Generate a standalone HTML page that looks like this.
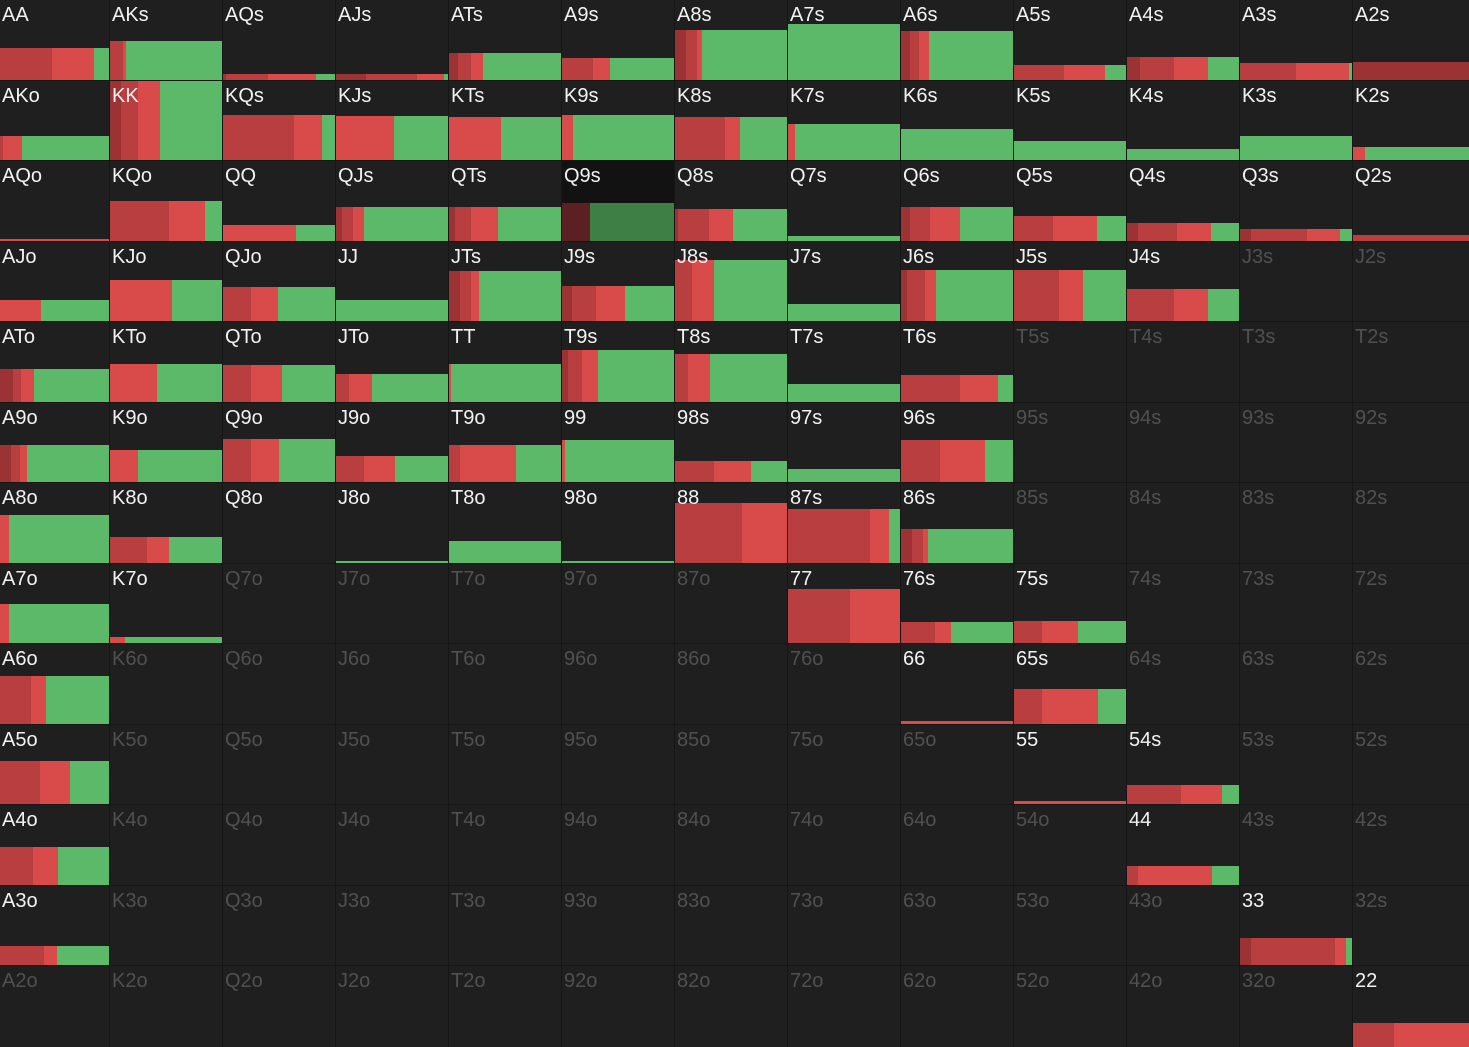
<!DOCTYPE html>
<html><head><meta charset="utf-8">
<style>
html,body{margin:0;padding:0;background:#161616;}
#grid{position:relative;width:1469px;height:1047px;background:#161616;overflow:hidden;font-family:"Liberation Sans",sans-serif;}
.cell{position:absolute;background:#1f1f1f;overflow:hidden;}
.cell.hl{background:#121212;}
.lbl{position:absolute;left:2px;top:3px;font-size:20px;color:#f2f2f2;z-index:2;line-height:24px;}
.cell.off .lbl{color:#505050;}
.bar{position:absolute;left:0;right:0;bottom:0;display:flex;}
.bar div{height:100%;}
</style></head>
<body>
<div id="grid"></div>
<script>
const ranks = ["A","K","Q","J","T","9","8","7","6","5","4","3","2"];
// hand -> [height fraction, darkest red, dark red, red, green]
const handNames = ["AA","AKs","AQs","AJs","ATs","A9s","A8s","A7s","A6s","A5s","A4s","A3s","A2s",
"AKo","KK","KQs","KJs","KTs","K9s","K8s","K7s","K6s","K5s","K4s","K3s","K2s",
"AQo","KQo","QQ","QJs","QTs","Q9s","Q8s","Q7s","Q6s","Q5s","Q4s","Q3s","Q2s",
"AJo","KJo","QJo","JJ","JTs","J9s","J8s","J7s","J6s","J5s","J4s",
"ATo","KTo","QTo","JTo","TT","T9s","T8s","T7s","T6s",
"A9o","K9o","Q9o","J9o","T9o","99","98s","97s","96s",
"A8o","K8o","Q8o","J8o","T8o","98o","88","87s","86s",
"A7o","K7o","77","76s","75s",
"A6o","66","65s",
"A5o","55","54s",
"A4o","44",
"A3o","33",
"22"];
const heights = [.40,.49,.07,.08,.34,.28,.63,.70,.61,.19,.29,.21,.22,
.31,1.0,.57,.56,.54,.57,.55,.45,.39,.24,.14,.30,.16,
.03,.50,.20,.43,.42,.48,.40,.06,.43,.31,.22,.15,.07,
.26,.52,.43,.26,.63,.44,.77,.22,.64,.64,.40,
.41,.48,.46,.35,.48,.65,.60,.23,.34,
.47,.41,.54,.33,.47,.53,.27,.16,.53,
.60,.32,0,.03,.27,.03,.75,.67,.42,
.49,.08,.69,.27,.28,
.60,.04,.44,
.55,.04,.24,
.47,.24,
.24,.34,
.30];
const darkest = [0,0,.03,.27,.08,0,.10,0,.08,0,.12,0,1,
0,.10,0,0,0,0,0,0,0,0,0,0,0,
0,0,0,.05,.05,.25,.03,0,.08,0,.10,.10,0,
0,0,0,0,.10,.09,0,0,.05,0,0,
.12,0,0,0,0,.05,0,0,0,
.10,0,0,0,0,0,0,0,0,
0,0,0,0,0,0,0,0,.10,
0,0,0,0,0,
0,0,0,
0,0,0,
0,0,
0,.10,
0];
const darkRed = [.48,.12,.37,.45,.12,.28,.10,0,.08,.45,.30,.50,0,
.03,.15,.63,0,0,0,.45,0,0,0,0,0,0,
0,.53,0,.10,.15,0,.27,0,.18,.35,.35,.50,1,
0,0,.25,0,.10,.21,.15,0,.16,.40,.42,
.07,0,.25,.12,0,.13,.12,0,.53,
.08,0,.25,.25,.10,0,.35,0,.35,
0,.33,0,0,0,0,.60,.73,.10,
0,0,.55,.30,.25,
.28,0,.25,
.37,0,.48,
.30,.10,
.40,.75,
.35];
const red = [.38,.02,.43,.24,.10,.15,.04,0,.09,.36,.30,.47,0,
.17,.20,.25,.52,.46,.10,.13,.06,0,0,0,0,.10,
1,.32,.65,.10,.24,0,.22,0,.27,.39,.30,.29,0,
.38,.55,.24,0,.07,.26,.20,0,.10,.22,.30,
.12,.42,.28,.20,.02,.14,.19,0,.34,
.07,.25,.25,.28,.50,.03,.33,0,.40,
.08,.20,0,0,0,0,.40,.17,.04,
.08,.13,.45,.15,.32,
.14,1,.50,
.27,1,.37,
.23,.66,
.12,.10,
.65];
const green = [.14,.86,.17,.04,.70,.57,.76,1,.75,.19,.28,.03,0,
.80,.55,.12,.48,.54,.90,.42,.94,1,1,1,1,.90,
0,.15,.35,.75,.56,.75,.48,1,.47,.26,.25,.11,0,
.62,.45,.51,1,.73,.44,.65,1,.69,.38,.28,
.69,.58,.47,.68,.98,.68,.69,1,.13,
.75,.75,.50,.47,.40,.97,.32,1,.25,
.92,.47,0,1,1,1,0,.10,.76,
.92,.87,0,.55,.43,
.58,0,.25,
.36,0,.15,
.47,.24,
.48,.05,
0];
const colsN = ["#9b3334","#b83e3f","#d94a4a","#5cb96a"];
const colsH = ["#5c2022","#6e2628","#822d2e","#3d7f45"];
const highlighted = "Q9s";

function colX(i){ return i===0 ? 0 : 110 + (i-1)*113; }
function colW(i){ return i===0 ? 109 : (i===12 ? 1469-colX(12) : 112); }
function rowY(i){ return Math.round(i*1047/13); }
function rowH(i){ return rowY(i+1)-rowY(i)-1; }
function handAt(r,c){
  if(r===c) return ranks[r]+ranks[c];
  if(c>r) return ranks[r]+ranks[c]+"s";
  return ranks[c]+ranks[r]+"o";
}
const grid = document.getElementById("grid");
for(let r=0;r<13;r++){
  for(let c=0;c<13;c++){
    const name = handAt(r,c);
    const idx = handNames.indexOf(name);
    const cell = document.createElement("div");
    
    
    cell.className = "cell" + (idx<0 ? " off" : "") + (name===highlighted ? " hl" : "");
    cell.style.left = colX(c)+"px";
    cell.style.top = rowY(r)+"px";
    cell.style.width = colW(c)+"px";
    cell.style.height = (r===12 ? 1047-rowY(12) : rowH(r))+"px";
    const lbl = document.createElement("div");
    
    
    lbl.className = "lbl";
    lbl.textContent = name;
    cell.appendChild(lbl);
    if(idx>=0 && heights[idx]>0){
      const bar = document.createElement("div");
      
      
      bar.className = "bar";
      bar.style.height = (heights[idx]*100)+"%";
      const segs = [darkest[idx], darkRed[idx], red[idx], green[idx]];
      const cols = name===highlighted ? colsH : colsN;
      const segNames = ['raise-large-segment','raise-medium-segment','raise-small-segment','call-segment'];
      segs.forEach((v,k)=>{
        if(v<=0) return;
        const s = document.createElement("div");
        
        
        s.style.flex = v + " 0 0";
        s.style.background = cols[k];
        bar.appendChild(s);
      });
      cell.appendChild(bar);
    }
    grid.appendChild(cell);
  }
}
</script>
</body></html>
